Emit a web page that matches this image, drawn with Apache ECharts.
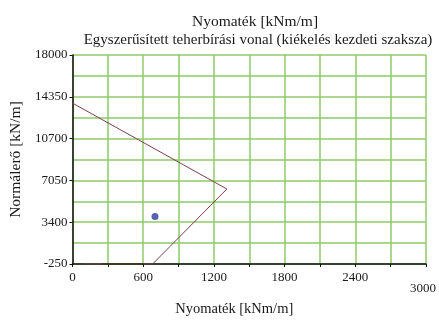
<!DOCTYPE html>
<html>
<head>
<meta charset="utf-8">
<script src="https://cdn.jsdelivr.net/npm/echarts@6/dist/echarts.min.js"></script>
<style>
  html, body { margin: 0; padding: 0; background: #fff; }
  #chart { width: 439px; height: 322px; }
</style>
</head>
<body>
<div id="chart"></div>
<script>
// Simplified load-bearing line: moment (x) vs. normal force (y)
const capacityM = [0, 1310, 680, 90];
const capacityN = [13800, 6300, -250, -250];
// short dark segment lying on the lower boundary
const baseM = [250, 600];
const baseN = [-250, -250];
// design load point
const loadM = [700];
const loadN = [3900];

const yTicks = [-250, 3400, 7050, 10700, 14350, 18000];
const xTicks = [0, 600, 1200, 1800, 2400, 3000];

const serif = 'Liberation Serif, Times New Roman, serif';
const green = '#8fca6a';

function pairs(xs, ys) { return xs.map((x, i) => [x, ys[i]]); }

const chart = echarts.init(document.getElementById('chart'));
chart.setOption({
  animation: false,
  backgroundColor: '#fff',
  title: [
    { text: 'Nyomaték [kNm/m]', left: 250, top: 9, textAlign: 'center',
      textStyle: { fontFamily: serif, fontSize: 15.5, fontWeight: 'normal', color: '#1a1a1a' } },
    { text: 'Egyszerűsített teherbírási vonal (kiékelés kezdeti szaksza)', left: 253, top: 28, textAlign: 'center',
      textStyle: { fontFamily: serif, fontSize: 15, fontWeight: 'normal', color: '#1a1a1a' } }
  ],
  grid: { left: 72.5, right: 8, top: 55, bottom: 54 },
  xAxis: {
    type: 'value', min: 0, max: 3000, interval: 600,
    name: 'Nyomaték [kNm/m]', nameLocation: 'middle', nameGap: 38,
    nameTextStyle: { fontFamily: serif, fontSize: 14.5, color: '#1a1a1a', padding: [0, 30, 0, 0] },
    axisLine: { show: true, onZero: false, lineStyle: { color: '#111', width: 1.5 } },
    axisTick: { show: true, length: 3, lineStyle: { color: '#111' } },
    minorTick: { show: true, splitNumber: 2, length: 3, lineStyle: { color: '#111' } },
    splitLine: { show: true, lineStyle: { color: green, width: 1.5 } },
    minorSplitLine: { show: true, lineStyle: { color: green, width: 1.5 } },
    axisLabel: {
      fontFamily: serif, fontSize: 13, color: '#1a1a1a', margin: 7,
      formatter: v => xTicks.includes(v) ? (v === 3000 ? '{low|' + v + '}' : String(v)) : '',
      rich: { low: { fontFamily: serif, fontSize: 13, color: '#1a1a1a', padding: [11, 6, 0, 0] } }
    }
  },
  yAxis: {
    type: 'value', min: -250, max: 18000, interval: 3650,
    name: 'Normálerő [kN/m]', nameLocation: 'middle', nameGap: 46,
    nameTextStyle: { fontFamily: serif, fontSize: 15.5, color: '#1a1a1a' },
    axisLine: { show: true, onZero: false, lineStyle: { color: '#111', width: 1.5 } },
    axisTick: { show: true, length: 3, lineStyle: { color: '#111' } },
    minorTick: { show: false, splitNumber: 2 },
    splitLine: { show: true, lineStyle: { color: green, width: 1.5 } },
    minorSplitLine: { show: true, lineStyle: { color: green, width: 1.5 } },
    axisLabel: {
      fontFamily: serif, fontSize: 13, color: '#1a1a1a', margin: 5,
      formatter: v => yTicks.includes(v) ? String(v) : ''
    }
  },
  series: [
    {
      type: 'line', data: pairs(capacityM, capacityN), symbol: 'none',
      lineStyle: { color: '#7d3e48', width: 1 }, z: 3
    },
    {
      type: 'line', data: pairs(baseM, baseN), symbol: 'none',
      lineStyle: { color: '#3a3418', width: 1.5 }, z: 4
    },
    {
      type: 'scatter', data: pairs(loadM, loadN), symbolSize: 7,
      itemStyle: { color: '#2c3a9c' }, z: 5
    }
  ]
});
</script>
</body>
</html>
